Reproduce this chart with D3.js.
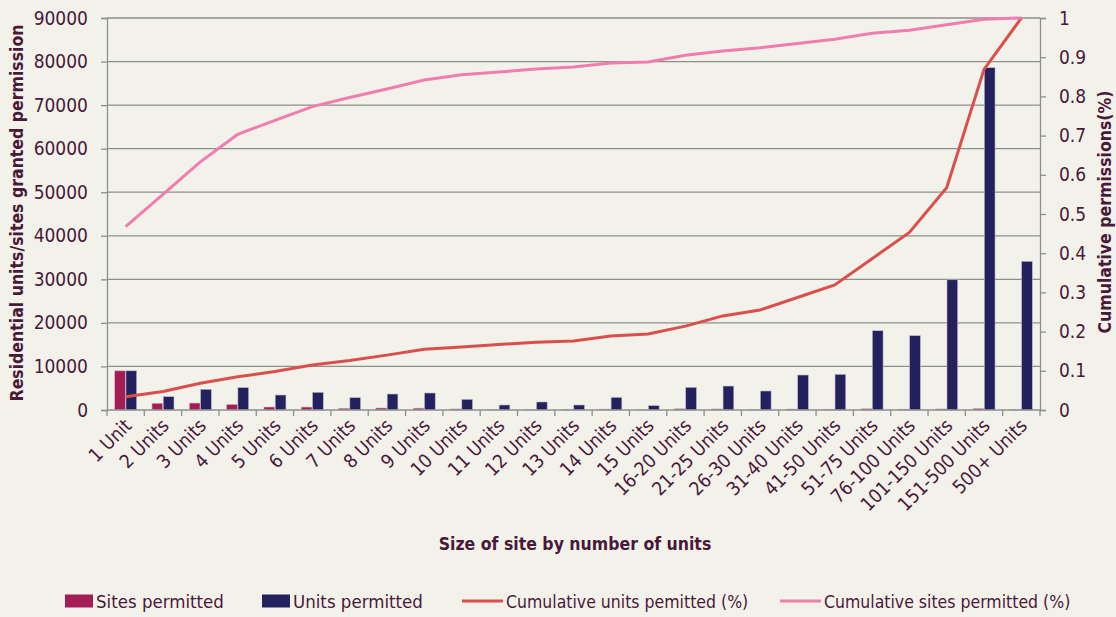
<!DOCTYPE html>
<html>
<head>
<meta charset="utf-8">
<script src="https://cdn.jsdelivr.net/npm/d3@7"></script>
<style>
  body { margin: 0; background: #f2f2eb; }
  svg { display: block; }
  text { font-family: "Liberation Sans Narrow", "DejaVu Sans Condensed", "Roboto Condensed", "Noto Sans", sans-serif; fill: #4a1838; }
</style>
</head>
<body>
<div id="chart"></div>
<script>
const width = 1116
const height = 617

// data
const categories = ["1 Unit", "2 Units", "3 Units", "4 Units", "5 Units", "6 Units", "7 Units", "8 Units", "9 Units",
  "10 Units", "11 Units", "12 Units", "13 Units", "14 Units", "15 Units", "16-20 Units", "21-25 Units", "26-30 Units",
  "31-40 Units", "41-50 Units", "51-75 Units", "76-100 Units", "101-150 Units", "151-500 Units", "500+ Units"]
const sitesPermitted = [9000, 1550, 1600, 1300, 690, 680, 400, 460, 430, 245, 105, 155, 90, 205, 68, 290, 240, 155, 230, 180, 290, 195, 240, 350, 50]
const unitsPermitted = [9000, 3060, 4750, 5130, 3440, 4060, 2830, 3670, 3900, 2450, 1150, 1840, 1150, 2900, 1000, 5200, 5500, 4360, 8030, 8190, 18200, 17060, 29900, 78590, 34130]
const cumUnits = [0.034, 0.047, 0.068, 0.085, 0.098, 0.115, 0.126, 0.14, 0.155, 0.161, 0.167, 0.173, 0.176, 0.189, 0.194, 0.214, 0.24, 0.255, 0.287, 0.319, 0.386, 0.453, 0.567, 0.869, 1.0]
const cumSites = [0.468, 0.55, 0.633, 0.703, 0.739, 0.774, 0.797, 0.819, 0.842, 0.855, 0.862, 0.87, 0.875, 0.885, 0.888, 0.905, 0.916, 0.924, 0.935, 0.946, 0.961, 0.969, 0.983, 0.997, 1.0]
const leftTicks = [0, 10000, 20000, 30000, 40000, 50000, 60000, 70000, 80000, 90000]
const rightTicks = [0, 0.1, 0.2, 0.3, 0.4, 0.5, 0.6, 0.7, 0.8, 0.9, 1]

const plot = { left: 107, right: 1040, top: 18, bottom: 410 }
const gridColor = "#8e8e8e"

const svg = d3.select("#chart").append("svg")
  .attr("width", width)
  .attr("height", height)

svg.append("rect").attr("width", width).attr("height", height).attr("fill", "#f2f2eb")

// scales
const x = d3.scaleBand().domain(categories).range([plot.left, plot.right]).padding(0)
const yLeft = d3.scaleLinear().domain([0, 90000]).range([plot.bottom, plot.top])
const yRight = d3.scaleLinear().domain([0, 1]).range([plot.bottom, plot.top])
const inner = d3.scaleBand().domain(["sites", "units"]).range([-11, 11]).paddingInner(0.05)

// gridlines
svg.append("g")
  .selectAll("line")
  .data(leftTicks.filter(d => d > 0))
  .join("line")
  .attr("x1", plot.left).attr("x2", plot.right)
  .attr("y1", d => yLeft(d)).attr("y2", d => yLeft(d))
  .attr("stroke", gridColor).attr("stroke-width", 1.3)

// left axis
const leftAxis = svg.append("g")
  .attr("transform", `translate(${plot.left},0)`)
  .call(d3.axisLeft(yLeft).tickValues(leftTicks).tickSize(6).tickPadding(13).tickFormat(d3.format("d")))
leftAxis.select(".domain").attr("stroke", gridColor).attr("stroke-width", 1.3)
leftAxis.selectAll(".tick line").attr("stroke", gridColor).attr("stroke-width", 1.3)
leftAxis.selectAll("text").attr("font-size", 19).attr("fill", "#4a1838").attr("font-family", null)

// right axis
const rightAxis = svg.append("g")
  .attr("transform", `translate(${plot.right},0)`)
  .call(d3.axisRight(yRight).tickValues(rightTicks).tickSize(6).tickPadding(13).tickFormat(d => d3.format("")(+d.toFixed(1))))
rightAxis.select(".domain").attr("stroke", gridColor).attr("stroke-width", 1.3)
rightAxis.selectAll(".tick line").attr("stroke", gridColor).attr("stroke-width", 1.3)
rightAxis.selectAll("text").attr("font-size", 19).attr("fill", "#4a1838").attr("font-family", null)

// bars
const barGroups = svg.append("g")
  .selectAll("g")
  .data(categories)
  .join("g")
  .attr("transform", d => `translate(${x(d) + x.bandwidth() / 2},0)`)

barGroups.append("rect")
  .attr("x", inner("sites"))
  .attr("width", inner.bandwidth())
  .attr("y", (d, i) => yLeft(sitesPermitted[i]))
  .attr("height", (d, i) => plot.bottom - yLeft(sitesPermitted[i]))
  .attr("fill", "#a41e55")
  .attr("stroke", "#c9c2cc").attr("stroke-width", 0.6)

barGroups.append("rect")
  .attr("x", inner("units"))
  .attr("width", inner.bandwidth())
  .attr("y", (d, i) => yLeft(unitsPermitted[i]))
  .attr("height", (d, i) => plot.bottom - yLeft(unitsPermitted[i]))
  .attr("fill", "#25205e")
  .attr("stroke", "#b9b8c8").attr("stroke-width", 0.6)

// x axis
const xAxis = svg.append("g")
  .attr("transform", `translate(0,${plot.bottom})`)
xAxis.append("line")
  .attr("x1", plot.left).attr("x2", plot.right)
  .attr("stroke", gridColor).attr("stroke-width", 1.5)
xAxis.selectAll(".tk")
  .data(categories.concat([null]))
  .join("line")
  .attr("class", "tk")
  .attr("x1", (d, i) => i < categories.length ? x(d) : plot.right)
  .attr("x2", (d, i) => i < categories.length ? x(d) : plot.right)
  .attr("y1", 0).attr("y2", 6)
  .attr("stroke", gridColor).attr("stroke-width", 1.3)
xAxis.selectAll(".lbl")
  .data(categories)
  .join("text")
  .attr("class", "lbl")
  .attr("transform", d => `translate(${x(d) + x.bandwidth() / 2 + 7},${17}) rotate(-45)`)
  .attr("text-anchor", "end")
  .attr("font-size", 19)
  .text(d => d)

// lines
const line = d3.line()
  .x((d, i) => x(categories[i]) + x.bandwidth() / 2)
  .y(d => yRight(d))

svg.append("path")
  .datum(cumUnits)
  .attr("d", line)
  .attr("fill", "none")
  .attr("stroke", "#da4f4c")
  .attr("stroke-width", 3)

svg.append("path")
  .datum(cumSites)
  .attr("d", line)
  .attr("fill", "none")
  .attr("stroke", "#f07cb0")
  .attr("stroke-width", 3)

// titles
svg.append("text")
  .attr("transform", `translate(23,213) rotate(-90)`)
  .attr("text-anchor", "middle")
  .attr("font-size", 17.5)
  .attr("font-weight", "bold")
  .text("Residential units/sites granted permission")

svg.append("text")
  .attr("transform", `translate(1111,212) rotate(-90)`)
  .attr("text-anchor", "middle")
  .attr("font-size", 17.5)
  .attr("font-weight", "bold")
  .text("Cumulative permissions(%)")

svg.append("text")
  .attr("x", 575).attr("y", 550)
  .attr("text-anchor", "middle")
  .attr("font-size", 17.5)
  .attr("font-weight", "bold")
  .text("Size of site by number of units")

// legend
const legendItems = [
  { name: "Sites permitted", color: "#a41e55", type: "rect", x: 65 },
  { name: "Units permitted", color: "#25205e", type: "rect", x: 262 },
  { name: "Cumulative units pemitted (%)", color: "#da4f4c", type: "line", x: 462 },
  { name: "Cumulative sites permitted (%)", color: "#f07cb0", type: "line", x: 780 }
]
const legend = svg.append("g").attr("transform", "translate(0,601)")
legendItems.forEach(item => {
  if (item.type === "rect") {
    legend.append("rect").attr("x", item.x).attr("y", -6.5).attr("width", 28).attr("height", 13).attr("fill", item.color)
    legend.append("text").attr("x", item.x + 31).attr("y", 7).attr("font-size", 18.5).text(item.name)
  } else {
    legend.append("line").attr("x1", item.x).attr("x2", item.x + 41).attr("y1", 0).attr("y2", 0)
      .attr("stroke", item.color).attr("stroke-width", 3)
    legend.append("text").attr("x", item.x + 44).attr("y", 7).attr("font-size", 17.5).text(item.name)
  }
})
</script>
</body>
</html>
